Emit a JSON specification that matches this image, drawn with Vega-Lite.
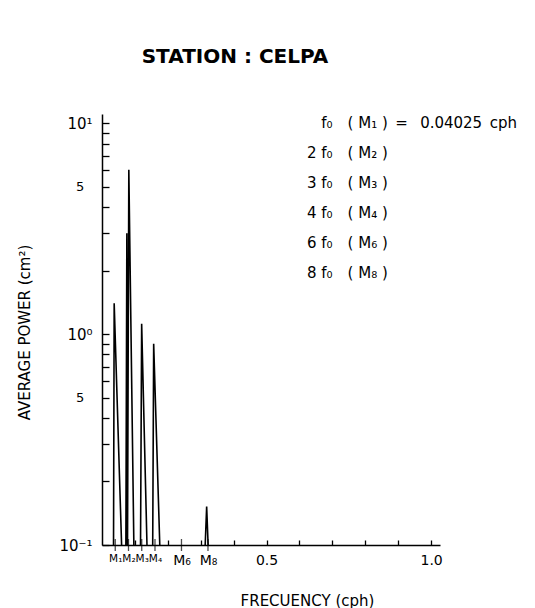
{
  "$schema": "https://vega.github.io/schema/vega-lite/v6.json",
  "width": 338,
  "height": 431,
  "autosize": {"type": "none"},
  "padding": {"left": 102, "top": 114, "right": 95, "bottom": 63},
  "background": "white",
  "title": {
    "text": "STATION : CELPA",
    "font": "DejaVu Sans",
    "fontSize": 20,
    "fontWeight": "bold",
    "color": "black",
    "anchor": "middle",
    "frame": "group",
    "dx": -36,
    "baseline": "alphabetic",
    "offset": 31
  },
  "config": {
    "view": {"stroke": null},
    "axis": {
      "domainColor": "black",
      "domainWidth": 1.5,
      "tickColor": "black",
      "tickWidth": 1.3,
      "labelColor": "black",
      "titleColor": "black",
      "grid": false,
      "labelFont": "DejaVu Sans",
      "titleFont": "DejaVu Sans",
      "titleFontWeight": "normal"
    }
  },
  "resolve": {"axis": {"x": "independent", "y": "independent"}},
  "layer": [
    {
      "data": {
        "values": [
          {"freq": 0.02, "power": 0.095},
          {"freq": 0.035, "power": 0.095},
          {"freq": 0.037, "power": 1.4},
          {"freq": 0.06, "power": 0.095},
          {"freq": 0.0725, "power": 0.095},
          {"freq": 0.0755, "power": 3.0},
          {"freq": 0.0775, "power": 0.095},
          {"freq": 0.0815, "power": 6.0},
          {"freq": 0.097, "power": 0.095},
          {"freq": 0.117, "power": 0.095},
          {"freq": 0.1205, "power": 1.12},
          {"freq": 0.137, "power": 0.095},
          {"freq": 0.154, "power": 0.095},
          {"freq": 0.157, "power": 0.9},
          {"freq": 0.176, "power": 0.095},
          {"freq": 0.313, "power": 0.095},
          {"freq": 0.318, "power": 0.152},
          {"freq": 0.323, "power": 0.095},
          {"freq": 1.0, "power": 0.095}
        ]
      },
      "mark": {"type": "line", "color": "black", "strokeWidth": 1.6, "clip": true},
      "encoding": {
        "x": {
          "field": "freq",
          "type": "quantitative",
          "scale": {"domain": [0, 1.027], "nice": false, "zero": false},
          "axis": {
            "orient": "bottom",
            "values": [0.04025, 0.0805, 0.12075, 0.161, 0.2415, 0.322, 0.5, 1.0],
            "labelExpr": "datum.value == 0.5 ? '0.5' : datum.value == 1 ? '1.0' : datum.value == 0.04025 ? 'M₁' : datum.value == 0.0805 ? 'M₂' : datum.value == 0.12075 ? 'M₃' : datum.value == 0.161 ? 'M₄' : datum.value == 0.2415 ? 'M₆' : datum.value == 0.322 ? 'M₈' : ''",
            "labelOverlap": false,
            "labelFlush": false,
            "labelBound": false,
            "labelFontSize": {"condition": {"test": "datum.value < 0.2", "value": 10.5}, "value": 14},
            "labelPadding": 8,
            "ticks": false,
            "title": "FRECUENCY (cph)",
            "titleFontSize": 15,
            "titleX": 205,
            "titleY": 55,
            "titleBaseline": "middle"
          }
        },
        "y": {
          "field": "power",
          "type": "quantitative",
          "scale": {"type": "log", "domain": [0.1, 11.04], "nice": false},
          "axis": {
            "orient": "left",
            "values": [0.1, 0.5, 1, 5, 10],
            "labelExpr": "datum.value == 10 ? '10¹' : datum.value == 1 ? '10⁰' : datum.value == 0.1 ? '10⁻¹' : '5\u2007\u200d'",
            "labelOverlap": false,
            "labelFlush": false,
            "labelBound": false,
            "labelFontSize": {"condition": {"test": "datum.value == 5 || datum.value == 0.5", "value": 13}, "value": 15},
            "labelPadding": 10,
            "ticks": false,
            "title": "AVERAGE POWER (cm²)",
            "titleFontSize": 15,
            "titleX": -78,
            "titleY": 218,
            "titleBaseline": "middle"
          }
        }
      }
    },
    {
      "data": {
        "values": [
          {"harmonic": "M₁", "freq": 0.04025, "label": "\u200d\u2007 f₀\u2002\u2002( M₁ )\u2002=\u2002 0.04025\u2002cph"},
          {"harmonic": "M₂", "freq": 0.0805, "label": "2 f₀\u2002\u2002( M₂ )"},
          {"harmonic": "M₃", "freq": 0.12075, "label": "3 f₀\u2002\u2002( M₃ )"},
          {"harmonic": "M₄", "freq": 0.161, "label": "4 f₀\u2002\u2002( M₄ )"},
          {"harmonic": "M₆", "freq": 0.2415, "label": "6 f₀\u2002\u2002( M₆ )"},
          {"harmonic": "M₈", "freq": 0.322, "label": "8 f₀\u2002\u2002( M₈ )"}
        ]
      },
      "mark": {"type": "tick", "orient": "vertical", "size": 12, "thickness": 1.3, "clip": false},
      "encoding": {
        "x": {
          "field": "freq",
          "type": "quantitative",
          "axis": {
            "orient": "top",
            "offset": -431,
            "values": [0.1, 0.2, 0.3, 0.4, 0.5, 0.6, 0.7, 0.8, 0.9, 1.0],
            "labels": false,
            "domain": false,
            "tickSize": 5,
            "title": null
          }
        },
        "y": {
          "datum": 0.1,
          "axis": {
            "orient": "right",
            "offset": -338,
            "values": [0.1, 0.2, 0.3, 0.4, 0.5, 0.6, 0.7, 0.8, 0.9, 1, 2, 3, 4, 5, 6, 7, 8, 9, 10],
            "labels": false,
            "domain": false,
            "tickSize": 7,
            "title": null
          }
        },
        "color": {
          "field": "label",
          "type": "nominal",
          "sort": null,
          "scale": {"range": ["black"]},
          "legend": {
            "orient": "none",
            "legendX": 190,
            "legendY": 1,
            "title": null,
            "symbolSize": 0,
            "symbolOpacity": 0,
            "symbolStrokeWidth": 0,
            "labelOffset": 0,
            "labelFont": "DejaVu Sans",
            "labelFontSize": 15,
            "labelColor": "black",
            "labelLimit": 300,
            "rowPadding": 14
          }
        }
      }
    }
  ]
}
